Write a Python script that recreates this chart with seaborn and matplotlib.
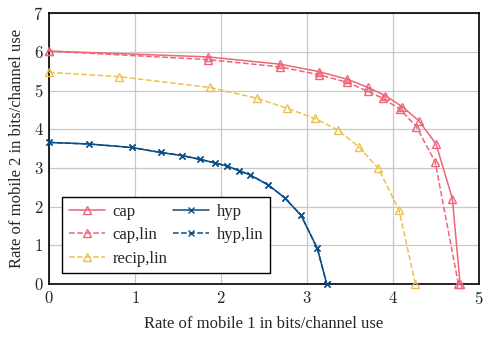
import matplotlib
matplotlib.use("Agg")
import matplotlib.pyplot as plt
import seaborn as sns
import pandas as pd
import numpy as np

# -------------------------------
# Data
# -------------------------------
cap_x = [0.0, 1.85, 2.69, 3.14, 3.47, 3.71, 3.91, 4.11, 4.30, 4.50, 4.69, 4.78]
cap_y = [6.02, 5.87, 5.68, 5.49, 5.29, 5.08, 4.87, 4.58, 4.22, 3.62, 2.21, 0.0]

caplin_x = [0.0, 1.85, 2.69, 3.14, 3.47, 3.71, 3.88, 4.08, 4.27, 4.49, 4.76]
caplin_y = [6.02, 5.80, 5.61, 5.41, 5.21, 4.98, 4.80, 4.52, 4.07, 3.16, 0.0]

recip_x = [0.0, 0.81, 1.87, 2.42, 2.77, 3.09, 3.36, 3.60, 3.83, 4.07, 4.26]
recip_y = [5.47, 5.36, 5.08, 4.80, 4.54, 4.28, 3.98, 3.55, 2.99, 1.91, 0.0]

hyp_x = [0.0, 0.46, 0.96, 1.30, 1.55, 1.76, 1.93, 2.07, 2.21, 2.34, 2.55, 2.74, 2.93, 3.12, 3.23]
hyp_y = [3.66, 3.62, 3.53, 3.40, 3.32, 3.22, 3.13, 3.05, 2.93, 2.82, 2.56, 2.23, 1.78, 0.92, 0.0]

x_ticks = [0, 1, 2, 3, 4, 5]
y_ticks = [0, 1, 2, 3, 4, 5, 6, 7]

RED = "#EE6677"
YEL = "#EEC050"
BLUE = "#0A4C86"

# -------------------------------
# Style
# -------------------------------
sns.set_theme(style="whitegrid")
plt.rcParams["font.family"] = ["Liberation Serif", "DejaVu Serif"]
plt.rcParams["mathtext.fontset"] = "cm"

fig = plt.figure(figsize=(4.91, 3.37), dpi=100)
ax = fig.add_axes([0.0998, 0.157, 0.8758, 0.804])

series = [
    ("cap", cap_x, cap_y, RED, "-", "^"),
    ("cap,lin", caplin_x, caplin_y, RED, "--", "^"),
    ("recip,lin", recip_x, recip_y, YEL, "--", "^"),
    ("hyp,lin", hyp_x, hyp_y, BLUE, "--", "x"),
    ("hyp", hyp_x, hyp_y, BLUE, "-", "x"),
]

for name, xs, ys, col, ls, mk in series:
    df = pd.DataFrame({"x": xs, "y": ys})
    sns.lineplot(data=df, x="x", y="y", ax=ax, sort=False, color=col,
                 linestyle=ls, linewidth=1.1, marker=mk,
                 markersize=6 if mk == "^" else 5,
                 markerfacecolor="none" if mk == "^" else col,
                 markeredgecolor=col, markeredgewidth=1.0,
                 label=name, clip_on=False, zorder=3)

ax.set_xlim(0, 5)
ax.set_ylim(0, 7)
ax.set_xticks(x_ticks)
ax.set_yticks(y_ticks)
ax.set_xticklabels([f"${v}$" for v in x_ticks], fontsize=12)
ax.set_yticklabels([f"${v}$" for v in y_ticks], fontsize=12)
ax.set_xlabel("Rate of mobile 1 in bits/channel use", fontsize=12, labelpad=6)
ax.set_ylabel("Rate of mobile 2 in bits/channel use", fontsize=12, labelpad=6)
ax.tick_params(axis="x", pad=5, length=0)
ax.tick_params(axis="y", pad=4, length=0)

ax.grid(True, color="#c8c8c8", linewidth=0.9)
for sp in ax.spines.values():
    sp.set_color("black")
    sp.set_linewidth(1.2)

handles, labels = ax.get_legend_handles_labels()
order = ["cap", "cap,lin", "recip,lin", "hyp", "hyp,lin"]
hl = {l: h for h, l in zip(handles, labels)}
leg = ax.legend([hl[l] for l in order], order, ncol=2, loc="lower left",
                bbox_to_anchor=(0.03, 0.04), fontsize=12, fancybox=False,
                framealpha=1, edgecolor="black", borderpad=0.4,
                handlelength=2.2, columnspacing=0.3, labelspacing=0.45,
                handletextpad=0.45, numpoints=1, borderaxespad=0.0)
leg.get_frame().set_linewidth(1.0)

fig.savefig("out.png", dpi=100)
